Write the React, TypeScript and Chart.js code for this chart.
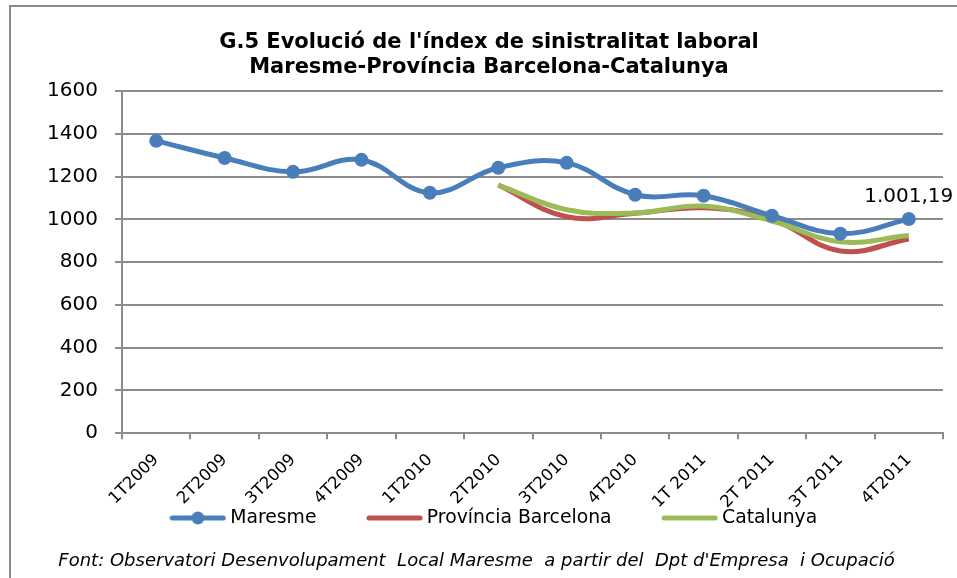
import React, { useEffect, useRef } from "react";
import { Chart, registerables } from "chart.js";

Chart.register(...registerables);

const categories = ["1T2009", "2T2009", "3T2009", "4T2009", "1T2010", "2T2010", "3T2010", "4T2010", "1T 2011", "2T 2011", "3T 2011", "4T2011"];
const maresme = [1367, 1287, 1222, 1278, 1124, 1241, 1264, 1115, 1110, 1017, 933, 1001.19];
const provincia = [null, null, null, null, null, 1160, 1012, 1028, 1054, 1000, 852, 908];
const catalunya = [null, null, null, null, null, 1160, 1045, 1030, 1062, 992, 895, 924];
const seriesNames = ["Maresme", "Província Barcelona", "Catalunya"];
const titleLines = ["G.5 Evolució de l'índex de sinistralitat laboral", "Maresme-Província Barcelona-Catalunya"];
const footerText = "Font: Observatori Desenvolupament  Local Maresme  a partir del  Dpt d'Empresa  i Ocupació";
const lastLabel = "1.001,19";

const BLUE = "#4a7ebb";
const RED = "#c0504d";
const GREEN = "#9bbb59";
const GRID = "#8c8c8c";
const FONT = "'DejaVu Sans', sans-serif";
const LEGEND_FONT = 18.8;

function makeSwatch(color: string, marker: boolean) {
  const c = document.createElement("canvas");
  c.width = 57;
  c.height = 16;
  const g = c.getContext("2d")!;
  g.strokeStyle = color;
  g.lineWidth = 5;
  g.lineCap = "round";
  g.beginPath();
  g.moveTo(3, 8);
  g.lineTo(54, 8);
  g.stroke();
  if (marker) {
    g.fillStyle = color;
    g.beginPath();
    g.arc(28.5, 8, 6.5, 0, Math.PI * 2);
    g.fill();
  }
  return c;
}

export default function App() {
  const ref = useRef<HTMLCanvasElement>(null);

  useEffect(() => {
    document.body.style.margin = "0";
    const canvas = ref.current!;
    const swatches = [makeSwatch(BLUE, true), makeSwatch(RED, false), makeSwatch(GREEN, false)];
    const colors = [BLUE, RED, GREEN];

    const labelPlugin = {
      id: "lastLabel",
      afterDatasetsDraw(chart: any) {
        const meta = chart.getDatasetMeta(0);
        const pt = meta.data[maresme.length - 1];
        if (!pt) return;
        const ctx = chart.ctx;
        ctx.save();
        ctx.font = `20px ${FONT}`;
        ctx.fillStyle = "#000";
        ctx.textAlign = "center";
        ctx.textBaseline = "middle";
        ctx.fillText(lastLabel, pt.x, pt.y - 22);
        ctx.restore();
      },
    };

    const footerPlugin = {
      id: "footer",
      afterLayout(chart: any) {
        if (chart.legend) chart.legend.left += 14;
      },
      afterDraw(chart: any) {
        const ctx = chart.ctx;
        ctx.save();
        ctx.font = `italic 18px ${FONT}`;
        ctx.fillStyle = "#000";
        ctx.textAlign = "center";
        ctx.textBaseline = "middle";
        ctx.fillText(footerText, 476.5, 561);
        ctx.restore();
      },
    };

    const chart = new Chart(canvas, {
      type: "line",
      data: {
        labels: categories,
        datasets: [
          {
            label: seriesNames[0],
            data: maresme,
            borderColor: BLUE,
            backgroundColor: BLUE,
            borderWidth: 5,
            pointRadius: 7,
            pointBackgroundColor: BLUE,
            pointBorderColor: BLUE,
            pointBorderWidth: 0,
            tension: 0.4,
            order: 0,
          },
          {
            label: seriesNames[1],
            data: provincia,
            borderColor: RED,
            backgroundColor: RED,
            borderWidth: 5,
            pointRadius: 0,
            tension: 0.4,
            order: 2,
          },
          {
            label: seriesNames[2],
            data: catalunya,
            borderColor: GREEN,
            backgroundColor: GREEN,
            borderWidth: 5,
            pointRadius: 0,
            tension: 0.4,
            order: 1,
          },
        ],
      } as any,
      options: {
        responsive: false,
        animation: false,
        layout: { padding: { left: 35, right: 14, top: 0, bottom: 40.6 } },
        scales: {
          x: {
            offset: true,
            grid: { offset: true, drawOnChartArea: false, drawTicks: true, tickLength: 6, color: GRID, lineWidth: 2 },
            border: { color: GRID, width: 2 },
            ticks: { font: { family: FONT, size: 16.5 }, color: "#000", minRotation: 45, maxRotation: 45, autoSkip: false, padding: 11 },
            afterFit: (s: any) => {
              s.height = 20.4;
              s._computeLabelArea = () => undefined;
            },
          },
          y: {
            min: 0,
            max: 1600,
            ticks: {
              stepSize: 200,
              font: { family: FONT, size: 20 },
              color: "#000",
              padding: 17,
              callback: (v: any) => String(v),
            },
            grid: { color: GRID, lineWidth: 2, tickLength: 7 },
            border: { color: GRID, width: 2 },
            afterFit: (s: any) => {
              s.width = 87;
            },
          },
        },
        plugins: {
          title: {
            display: true,
            text: titleLines,
            color: "#000",
            font: { family: FONT, weight: "bold", size: 21, lineHeight: "25px" },
            padding: { top: 30.5, bottom: 10.5 },
          },
          legend: {
            display: true,
            position: "bottom",
            labels: {
              usePointStyle: true,
              pointStyleWidth: 46,
              padding: 55,
              color: "#000",
              font: { family: FONT, size: LEGEND_FONT },
              generateLabels: () =>
                seriesNames.map((name, i) => ({
                  text: name,
                  fillStyle: colors[i],
                  strokeStyle: colors[i],
                  lineWidth: 0,
                  hidden: false,
                  pointStyle: swatches[i],
                  datasetIndex: i,
                  fontColor: "#000",
                })),
            },
          },
          tooltip: { enabled: false },
        },
      } as any,
      plugins: [labelPlugin, footerPlugin],
    });
    return () => chart.destroy();
  }, []);

  return (
    <div style={{ position: "fixed", left: 0, top: 0, width: 957, height: 578, background: "#fff", overflow: "hidden" }}>
      <div
        style={{
          position: "absolute",
          left: 9,
          top: 5,
          width: 1000,
          height: 1000,
          borderTop: "2px solid #8c8c8c",
          borderLeft: "2px solid #8c8c8c",
        }}
      />
      <canvas ref={ref} width={957} height={578} style={{ position: "absolute", left: 0, top: 0, width: 957, height: 578 }} />
    </div>
  );
}
